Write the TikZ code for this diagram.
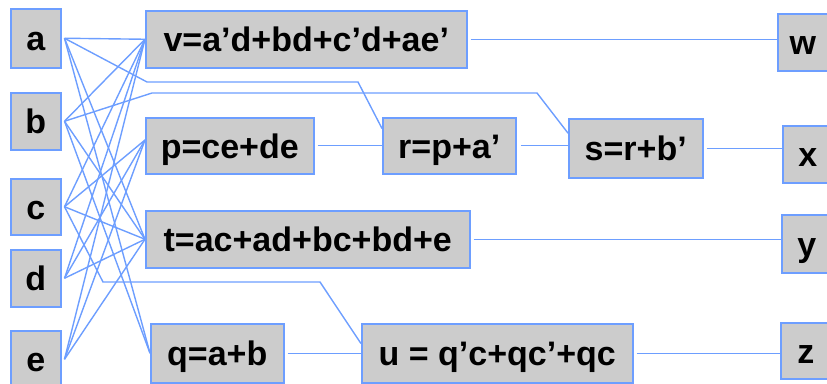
\documentclass[tikz,border=0pt]{standalone}
\usepackage{fontspec}
\setmainfont{Liberation Sans}
\usetikzlibrary{calc}
\definecolor{linkblue}{RGB}{109,158,255}
\definecolor{boxgray}{RGB}{204,204,204}
\tikzset{
  gate/.style={draw=linkblue, line width=1.5pt, fill=boxgray, inner sep=0pt,
    anchor=north west, text height=24.5pt, text depth=0pt,
    font=\fontsize{34}{40}\selectfont\bfseries},
  wire/.style={draw=linkblue, line width=1.4pt},
}
\begin{document}
\begin{tikzpicture}[x=1pt, y=-1pt]
\useasboundingbox (0,0) rectangle (827,383);

% inputs
\node[gate, minimum width=50pt, minimum height=59pt] (a) at (10,8)   {a};
\node[gate, minimum width=50pt, minimum height=57pt] (b) at (10,92)  {b};
\node[gate, minimum width=50pt, minimum height=56pt] (c) at (10,178) {c};
\node[gate, minimum width=50pt, minimum height=57pt] (d) at (10,249) {d};
\node[gate, minimum width=50pt, minimum height=57pt] (e) at (10,330) {e};

% intermediate functions
\node[gate, minimum width=321pt, minimum height=57pt] (v) at (145,10)  {v=a’d+bd+c’d+ae’};
\node[gate, minimum width=168pt, minimum height=56pt] (p) at (145,117) {p=ce+de};
\node[gate, minimum width=133pt, minimum height=56pt] (r) at (382,117) {r=p+a’};
\node[gate, minimum width=134pt, minimum height=59pt] (s) at (568,118) {s=r+b’};
\node[gate, minimum width=324pt, minimum height=57pt] (t) at (145,210) {t=ac+ad+bc+bd+e};
\node[gate, minimum width=133pt, minimum height=59pt] (q) at (150,323) {q=a+b};
\node[gate, minimum width=271pt, minimum height=59pt] (u) at (361,323) {u = q’c+qc’+qc};

% outputs
\node[gate, minimum width=50pt, minimum height=57pt] (w) at (777,13)  {w};
\node[gate, minimum width=50pt, minimum height=57pt] (x) at (782,125) {x};
\node[gate, minimum width=50pt, minimum height=58pt] (y) at (781,214) {y};
\node[gate, minimum width=50pt, minimum height=56pt] (z) at (780,322) {z};

% input fan-out
\foreach \src/\dst in {a/v, b/v, c/v, d/v, e/v, a/t, b/t, c/t, d/t, e/t, a/q, b/q}
  \draw[wire] ([xshift=3pt]\src.east) -- (\dst.west);
\foreach \src in {c, d, e}
  \draw[wire] ([xshift=3pt]\src.east) -- ($(p.north west)!0.4!(p.south west)$);

% routed inputs
\coordinate (ra1) at (147,82);  \coordinate (ra2) at (358,82);
\coordinate (sb1) at (152,93);  \coordinate (sb2) at (537,93);
\coordinate (uc1) at (103,282); \coordinate (uc2) at (320,282);
\draw[wire] ([xshift=3pt]a.east) -- (ra1) -- (ra2) -- ($(r.north west)!0.2!(r.south west)$);
\draw[wire] ([xshift=3pt]b.east) -- (sb1) -- (sb2) -- ($(s.north west)!0.25!(s.south west)$);
\draw[wire] ([xshift=3pt]c.east) -- (uc1) -- (uc2) -- ($(u.north west)!0.34!(u.south west)$);

% chains to outputs
\draw[wire] ([xshift=3pt]v.east) -- (v.east -| w.west);
\draw[wire] ([xshift=3pt]p.east) -- (p.east -| r.west);
\draw[wire] ([xshift=4pt]r.east) -- (r.east -| s.west);
\draw[wire] ([xshift=3pt]s.east) -- (s.east -| x.west);
\draw[wire] ([xshift=3pt]t.east) -- (t.east -| y.west);
\draw[wire] ([xshift=3pt]q.east) -- (q.east -| u.west);
\draw[wire] ([xshift=3pt]u.east) -- (u.east -| z.west);
\end{tikzpicture}
\end{document}
